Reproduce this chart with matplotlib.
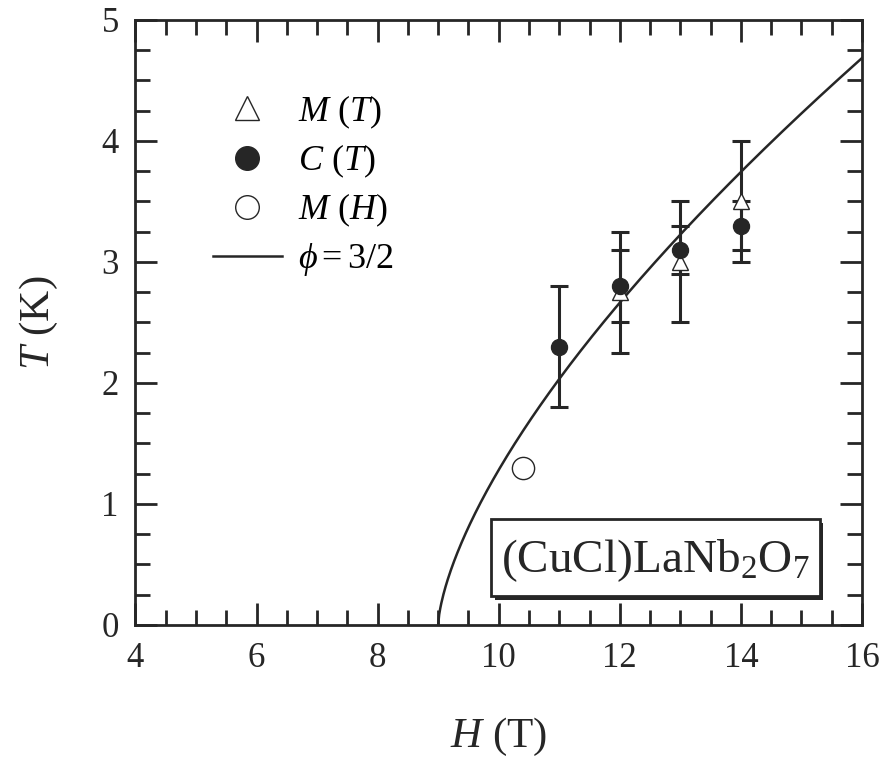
import numpy as np
import matplotlib
matplotlib.use('Agg')
import matplotlib.pyplot as plt
from matplotlib.ticker import MultipleLocator
from matplotlib.lines import Line2D

plt.rcParams['font.family'] = ['Liberation Serif', 'DejaVu Serif']
plt.rcParams['mathtext.fontset'] = 'custom'
plt.rcParams['mathtext.rm'] = 'Liberation Serif'
plt.rcParams['mathtext.it'] = 'Liberation Serif:italic'

# M(T) - open triangles
mtH = [12, 13, 14]
mtT = [2.75, 3.0, 3.5]
mtErr = [0.5, 0.5, 0.5]

# C(T) - filled circles
ctH = [11, 12, 13, 14]
ctT = [2.3, 2.8, 3.1, 3.3]
ctErr = [0.5, 0.3, 0.2, 0.2]

# M(H) - open circle
mhH = [10.4]
mhT = [1.3]

# phase boundary fit, T = A (H - Hc)^(1/phi)
Hc = 9.0
A = 1.28
phi = 1.5

ink = '#262626'

fig = plt.figure(figsize=(8.85, 7.62), dpi=100)
ax = fig.add_axes([0.153, 0.18, 0.821, 0.794])

H = np.linspace(Hc, 16, 400)
ax.plot(H, A * (H - Hc) ** (1 / phi), color=ink, lw=1.8, zorder=2)

ax.errorbar(mtH, mtT, yerr=mtErr, fmt='none', ecolor=ink, elinewidth=2.2,
            capsize=6.5, capthick=2.2, zorder=3)
ax.errorbar(ctH, ctT, yerr=ctErr, fmt='none', ecolor=ink, elinewidth=2.2,
            capsize=6.5, capthick=2.2, zorder=3)
ax.plot(mtH, mtT, '^', ms=11, mfc='white', mec=ink, mew=1.0, zorder=4)
ax.plot(ctH, ctT, 'o', ms=11.5, mfc=ink, mec=ink, zorder=5)
ax.plot(mhH, mhT, 'o', ms=16, mfc='white', mec=ink, mew=1.0, zorder=4)

# legend handles drawn larger than the data marks, as in the original
handles = [
    Line2D([], [], ls='none', marker='^', ms=17, mfc='white', mec=ink, mew=1.0),
    Line2D([], [], ls='none', marker='o', ms=17, mfc=ink, mec=ink),
    Line2D([], [], ls='none', marker='o', ms=17, mfc='white', mec=ink, mew=1.0),
    Line2D([], [], color=ink, lw=1.8),
]
labels = [r'$M$ ($T$)', r'$C$ ($T$)', r'$M$ ($H$)', r'$\phi = 3/2$']
ax.legend(handles, labels, loc='upper left', bbox_to_anchor=(0.062, 0.932),
          frameon=False, fontsize=26, handlelength=1.9, labelspacing=0.33,
          handletextpad=0.45)

ax.set_xlim(4, 16)
ax.set_ylim(0, 5)
ax.xaxis.set_major_locator(MultipleLocator(2))
ax.xaxis.set_minor_locator(MultipleLocator(0.5))
ax.yaxis.set_major_locator(MultipleLocator(1))
ax.yaxis.set_minor_locator(MultipleLocator(0.25))
ax.tick_params(which='both', direction='in', top=True, right=True,
               color=ink, width=2, labelsize=25, labelcolor=ink)
ax.tick_params(which='major', length=16, pad=12)
ax.tick_params(which='minor', length=11)
for s in ax.spines.values():
    s.set_linewidth(2)
    s.set_color(ink)

ax.set_xlabel(r'$H$ (T)', fontsize=31, labelpad=30, color=ink)
ax.set_ylabel(r'$T$ (K)', fontsize=31, labelpad=30, color=ink)

# sample label box with shadow
bx, by, bw, bh = 0.49, 0.047, 0.452, 0.128
ax.add_patch(plt.Rectangle((bx + 0.005, by - 0.006), bw, bh, transform=ax.transAxes,
                           facecolor=ink, edgecolor='none', zorder=6))
ax.add_patch(plt.Rectangle((bx, by), bw, bh, transform=ax.transAxes,
                           facecolor='white', edgecolor=ink, lw=2, zorder=7))
ax.text(bx + bw / 2, by + bh / 2 - 0.004, r'(CuCl)LaNb$_2$O$_7$', transform=ax.transAxes,
        ha='center', va='center', fontsize=34, color=ink, zorder=8)

fig.savefig('out.png', dpi=100)
